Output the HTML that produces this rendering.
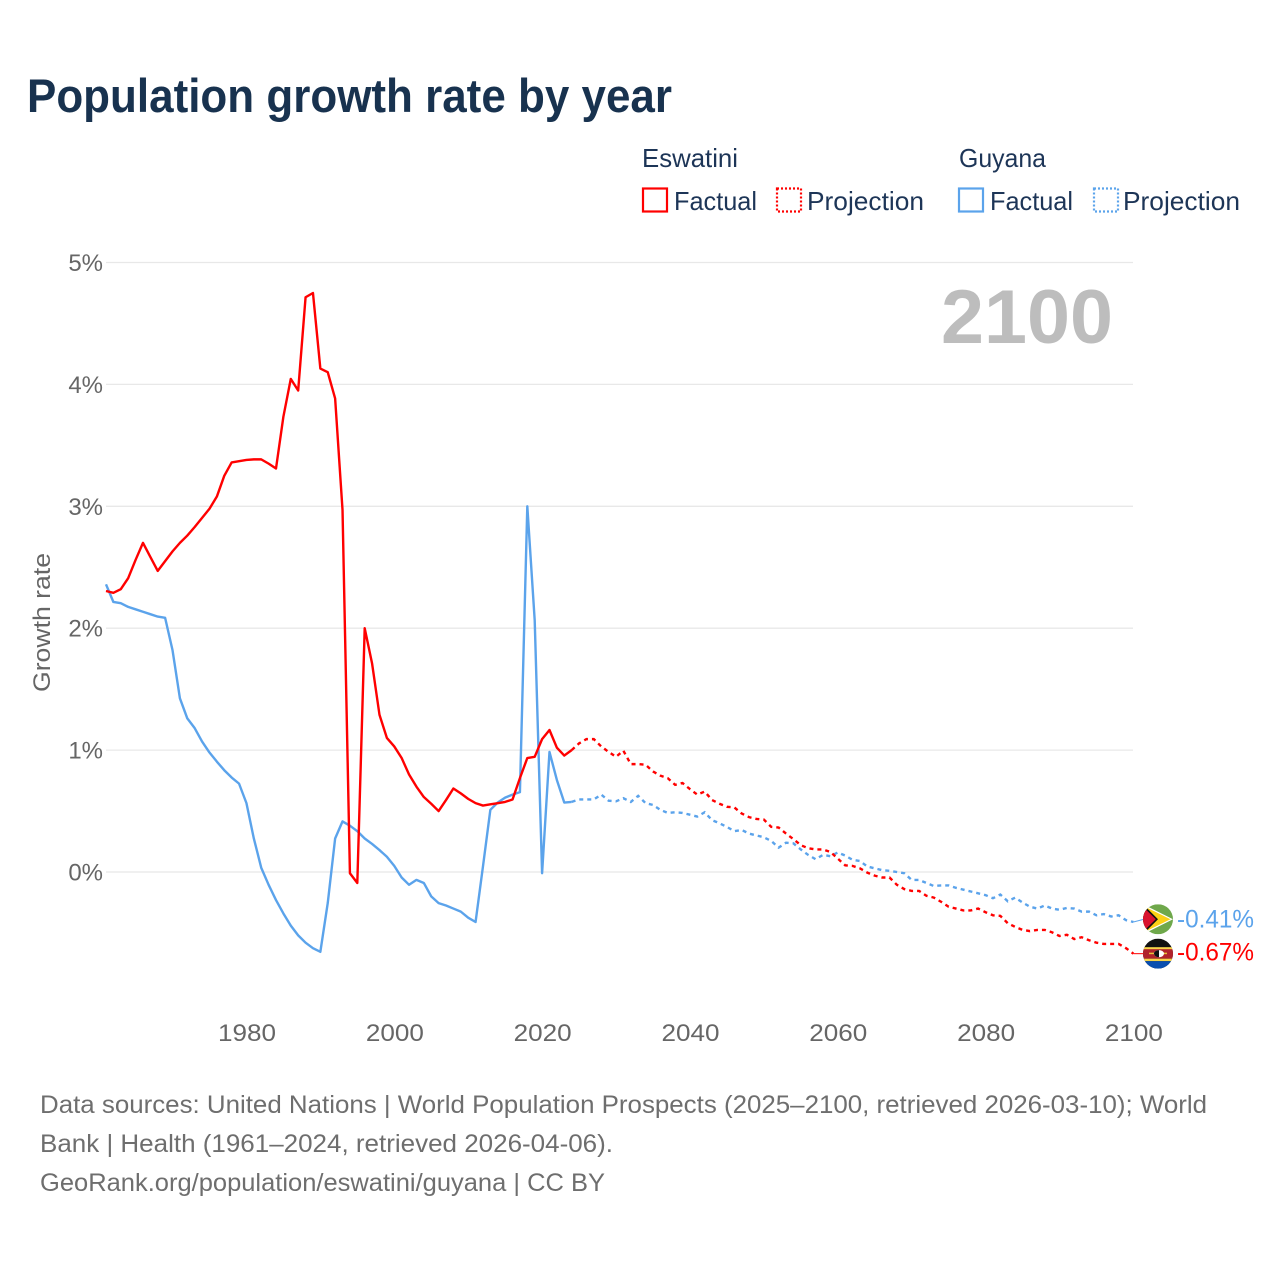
<!DOCTYPE html>
<html lang="en">
<head>
<meta charset="utf-8">
<title>Population growth rate by year</title>
<style>
html,body{margin:0;padding:0;background:#fff;width:1280px;height:1280px;overflow:hidden}
svg{display:block}
text{font-family:"Liberation Sans",sans-serif}
</style>
</head>
<body>
<svg id="chart" width="1280" height="1280" viewBox="0 0 1280 1280">
  <defs>
    <clipPath id="flag-clip-g"><circle cx="0" cy="0" r="15"/></clipPath>
    <clipPath id="flag-clip-e"><circle cx="0" cy="0" r="15"/></clipPath>
  </defs>
  <text x="27" y="112" font-size="47" font-weight="700" fill="#18324f" textLength="645" lengthAdjust="spacingAndGlyphs">Population growth rate by year</text>

  <g fill="#1d3557" font-size="26">
    <text x="642" y="167" textLength="96" lengthAdjust="spacingAndGlyphs">Eswatini</text>
    <text x="959" y="167" textLength="87" lengthAdjust="spacingAndGlyphs">Guyana</text>
    <g>
      <rect x="643" y="188.5" width="24" height="23" fill="none" stroke="#ff0000" stroke-width="2.2"/>
      <text x="674" y="210" textLength="83" lengthAdjust="spacingAndGlyphs">Factual</text>
    </g>
    <g>
      <rect x="777" y="188.5" width="24" height="23" fill="none" stroke="#ff0000" stroke-width="2.2" stroke-dasharray="2 2"/>
      <text x="807" y="210" textLength="117" lengthAdjust="spacingAndGlyphs">Projection</text>
    </g>
    <g>
      <rect x="959" y="188.5" width="24" height="23" fill="none" stroke="#5ba3eb" stroke-width="2.2"/>
      <text x="990" y="210" textLength="83" lengthAdjust="spacingAndGlyphs">Factual</text>
    </g>
    <g>
      <rect x="1094" y="188.5" width="24" height="23" fill="none" stroke="#5ba3eb" stroke-width="2.2" stroke-dasharray="2 2"/>
      <text x="1123" y="210" textLength="117" lengthAdjust="spacingAndGlyphs">Projection</text>
    </g>
  </g>

  <g id="grid"></g>
  <g id="yticks"></g>
  <g id="xticks"></g>

  <text x="1113" y="343" text-anchor="end" font-size="76" font-weight="700" fill="#bdbdbd" textLength="172" lengthAdjust="spacingAndGlyphs">2100</text>
  <text transform="translate(50 622.5) rotate(-90)" text-anchor="middle" font-size="24" fill="#666666" textLength="139" lengthAdjust="spacingAndGlyphs">Growth rate</text>

  <g id="series"></g>

  <g id="flag-guyana">
    <g clip-path="url(#flag-clip-g)">
      <rect x="-15" y="-15" width="30" height="30" fill="#6fa84b"/>
      <path d="M-15 -15 L15 0 L-15 15 Z" fill="#ffffff"/>
      <path d="M-15 -13.5 L12.5 0 L-15 13.5 Z" fill="#fcd116"/>
      <path d="M-15 -15 L0 0 L-15 15 Z" fill="#111111"/>
      <path d="M-15 -12.5 L-2.2 0 L-15 12.5 Z" fill="#d9122e"/>
    </g>
  </g>
  <g id="flag-eswatini">
    <g clip-path="url(#flag-clip-e)">
      <rect x="-15" y="-15" width="30" height="30" fill="#111111"/>
      <rect x="-15" y="-6.5" width="30" height="2.5" fill="#f7d44a"/>
      <rect x="-15" y="-4.5" width="30" height="9.5" fill="#b1242c"/>
      <rect x="-15" y="5" width="30" height="2.5" fill="#f7d44a"/>
      <rect x="-15" y="7.5" width="30" height="7.5" fill="#0a4fb0"/>
      <rect x="-9" y="-1" width="18" height="1.5" fill="#e8c23a"/>
      <ellipse cx="1" cy="0" rx="5" ry="3.6" fill="#ffffff"/>
      <path d="M1 -3.6 A5 3.6 0 0 0 1 3.6 Z" fill="#111111"/>
    </g>
  </g>

  <g id="end-labels"></g>

  <g fill="#6e6e6e" font-size="25">
    <text x="40" y="1113" textLength="1167" lengthAdjust="spacingAndGlyphs">Data sources: United Nations | World Population Prospects (2025–2100, retrieved 2026-03-10); World</text>
    <text x="40" y="1152" textLength="573" lengthAdjust="spacingAndGlyphs">Bank | Health (1961–2024, retrieved 2026-04-06).</text>
    <text x="40" y="1191" textLength="565" lengthAdjust="spacingAndGlyphs">GeoRank.org/population/eswatini/guyana | CC BY</text>
  </g>
</svg>

<script>
var firstYear = 1961;
var lastYear = 2100;
var yTickValues = [0, 1, 2, 3, 4, 5];
var yTickLabels = ["0%", "1%", "2%", "3%", "4%", "5%"];
var xTickValues = [1980, 2000, 2020, 2040, 2060, 2080, 2100];
var xTickLabels = ["1980", "2000", "2020", "2040", "2060", "2080", "2100"];

// Eswatini, 1961–2024 (% per year)
var eswatiniFactual = [
  2.305,2.29,2.32,2.41,2.56,2.70,2.585,2.47,2.55,2.63,
  2.70,2.76,2.83,2.905,2.98,3.08,3.25,3.36,3.37,3.38,
  3.385,3.385,3.35,3.31,3.735,4.045,3.95,4.715,4.75,4.13,
  4.10,3.885,2.97,-0.01,-0.09,2.0,1.71,1.29,1.10,1.03,
  0.935,0.80,0.70,0.615,0.56,0.50,0.59,0.685,0.645,0.60,
  0.565,0.545,0.555,0.565,0.575,0.595,0.77,0.935,0.945,1.09,
  1.165,1.02,0.955,1.00
];
// Eswatini, 2025–2100
var eswatiniProjection = [
  1.055,1.09,1.09,1.03,0.985,0.945,
  0.995,0.885,0.885,0.88,0.825,0.79,0.77,0.715,0.73,0.68,
  0.635,0.66,0.59,0.56,0.535,0.53,0.48,0.45,0.435,0.43,
  0.37,0.365,0.315,0.27,0.22,0.195,0.185,0.185,0.165,0.11,
  0.055,0.05,0.03,-0.005,-0.03,-0.045,-0.045,-0.105,-0.14,-0.155,
  -0.155,-0.195,-0.21,-0.245,-0.285,-0.30,-0.315,-0.315,-0.30,-0.33,
  -0.355,-0.36,-0.42,-0.45,-0.475,-0.485,-0.475,-0.475,-0.495,-0.525,
  -0.515,-0.55,-0.535,-0.56,-0.58,-0.59,-0.59,-0.59,-0.625,-0.67
];
// Guyana, 1961–2024
var guyanaFactual = [
  2.36,2.215,2.205,2.175,2.155,2.135,2.115,2.095,2.085,1.82,
  1.425,1.26,1.18,1.07,0.98,0.905,0.835,0.775,0.725,0.565,
  0.275,0.035,-0.105,-0.23,-0.34,-0.44,-0.52,-0.58,-0.625,-0.655,
  -0.255,0.275,0.415,0.38,0.335,0.275,0.23,0.18,0.125,0.05,
  -0.045,-0.105,-0.065,-0.09,-0.20,-0.255,-0.275,-0.30,-0.325,-0.375,
  -0.41,0.045,0.51,0.57,0.61,0.635,0.655,3.0,2.065,-0.01,
  0.985,0.755,0.57,0.575
];
// Guyana, 2025–2100
var guyanaProjection = [
  0.595,0.595,0.595,0.635,0.585,0.58,
  0.605,0.575,0.625,0.565,0.55,0.51,0.485,0.49,0.485,0.47,
  0.455,0.49,0.425,0.40,0.37,0.335,0.345,0.315,0.30,0.285,
  0.255,0.20,0.24,0.235,0.185,0.14,0.105,0.14,0.13,0.16,
  0.135,0.10,0.09,0.045,0.03,0.015,0.01,0,-0.01,-0.065,
  -0.065,-0.09,-0.115,-0.11,-0.11,-0.13,-0.145,-0.16,-0.175,-0.19,
  -0.215,-0.185,-0.24,-0.21,-0.25,-0.285,-0.30,-0.275,-0.30,-0.31,
  -0.295,-0.30,-0.325,-0.325,-0.355,-0.345,-0.365,-0.355,-0.395,-0.41
];

var NS = "http://www.w3.org/2000/svg";
function xScale(year) { return 106 + (year - firstYear) * (1133.4 - 106) / (lastYear - firstYear); }
function yScale(v) { return 872 - v * (872 - 262.5) / 5; }
function make(tag, attrs, parent) {
  var el = document.createElementNS(NS, tag);
  for (var k in attrs) { el.setAttribute(k, attrs[k]); }
  parent.appendChild(el);
  return el;
}
function pathFrom(values, startYear, prefixYear, prefixValue) {
  var pts = [];
  if (prefixYear !== null) { pts.push(xScale(prefixYear).toFixed(2) + " " + yScale(prefixValue).toFixed(2)); }
  for (var i = 0; i < values.length; i++) {
    pts.push(xScale(startYear + i).toFixed(2) + " " + yScale(values[i]).toFixed(2));
  }
  return "M" + pts.join("L");
}
function fmt(v) { return v.toFixed(2) + "%"; }

var grid = document.getElementById("grid");
var yt = document.getElementById("yticks");
var xt = document.getElementById("xticks");
yTickValues.forEach(function (v, i) {
  var line = make("line", { x1: 106, x2: 1133, y1: yScale(v), y2: yScale(v), stroke: "#e8e8e8", "stroke-width": 1.3 }, grid);
  
  
  var t = make("text", { x: 103, y: yScale(v) + 8.5, "text-anchor": "end", "font-size": 24, fill: "#666666" }, yt);
  
  
  t.textContent = yTickLabels[i];
});
xTickValues.forEach(function (v, i) {
  var t = make("text", { x: 106.6 + (v - firstYear) * 7.391, y: 1041, "text-anchor": "middle", "font-size": 24, fill: "#666666", textLength: 58, lengthAdjust: "spacingAndGlyphs" }, xt);
  
  
  t.textContent = xTickLabels[i];
});

var series = document.getElementById("series");
var factualEnd = firstYear + eswatiniFactual.length - 1;
var projStart = factualEnd + 1;
var dash = "4 4";
var lineWidth = 2.4;

var gf = make("path", { d: pathFrom(guyanaFactual, firstYear, null, 0), fill: "none", stroke: "#5ba3eb", "stroke-width": lineWidth, "stroke-linejoin": "round" }, series);


var gp = make("path", { d: pathFrom(guyanaProjection, projStart, factualEnd, guyanaFactual[guyanaFactual.length - 1]), fill: "none", stroke: "#5ba3eb", "stroke-width": lineWidth, "stroke-dasharray": dash }, series);


var ef = make("path", { d: pathFrom(eswatiniFactual, firstYear, null, 0), fill: "none", stroke: "#ff0000", "stroke-width": lineWidth, "stroke-linejoin": "round" }, series);


var ep = make("path", { d: pathFrom(eswatiniProjection, projStart, factualEnd, eswatiniFactual[eswatiniFactual.length - 1]), fill: "none", stroke: "#ff0000", "stroke-width": lineWidth, "stroke-dasharray": dash }, series);



var guyanaEnd = guyanaProjection[guyanaProjection.length - 1];
var eswatiniEnd = eswatiniProjection[eswatiniProjection.length - 1];
var gy = yScale(guyanaEnd) - 2.7;
var ey = yScale(eswatiniEnd);

var gc = make("line", { x1: xScale(lastYear), x2: 1144, y1: yScale(guyanaEnd), y2: gy, stroke: "#5ba3eb", "stroke-width": 1 }, series);


var ec = make("line", { x1: xScale(lastYear), x2: 1144, y1: ey, y2: ey, stroke: "#ff0000", "stroke-width": 1 }, series);



document.getElementById("flag-guyana").setAttribute("transform", "translate(1158 " + gy + ")");
document.getElementById("flag-eswatini").setAttribute("transform", "translate(1158 " + ey + ")");

var labels = document.getElementById("end-labels");
var gl = make("text", { x: 1177, y: gy + 8, "font-size": 25, fill: "#5ba3eb", textLength: 77, lengthAdjust: "spacingAndGlyphs" }, labels);


gl.textContent = fmt(guyanaEnd);
var el = make("text", { x: 1177, y: ey + 7, "font-size": 25, fill: "#ff0000", textLength: 77, lengthAdjust: "spacingAndGlyphs" }, labels);


el.textContent = fmt(eswatiniEnd);
</script>
</body>
</html>
